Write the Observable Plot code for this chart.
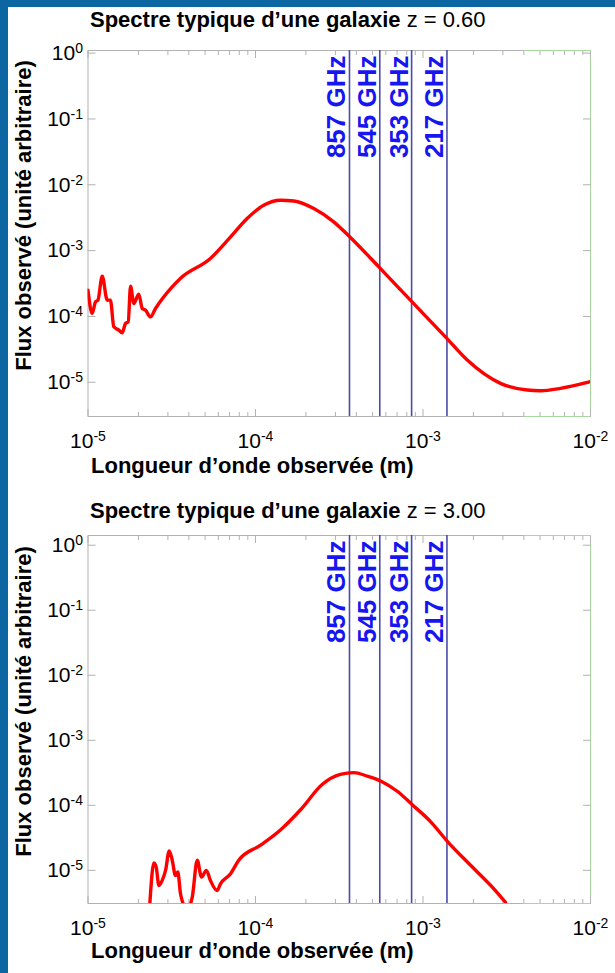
<!DOCTYPE html>
<html>
<head>
<meta charset="utf-8">
<script src="https://cdn.jsdelivr.net/npm/d3@7"></script>
<script src="https://cdn.jsdelivr.net/npm/@observablehq/plot@0.6"></script>
<style>
  html, body { margin: 0; padding: 0; background: #fff; }
  #page { position: relative; width: 615px; height: 973px; overflow: hidden; background: #fff;
          font-family: "Liberation Sans", Arial, sans-serif; color: #000; }
  .bar-left { position: absolute; left: 0; top: 0; width: 8px; height: 973px; background: #0b66a2; }
  .bar-top { position: absolute; left: 0; top: 0; width: 615px; height: 7px; background: #0b66a2; }
  .title { position: absolute; left: 90px; font-size: 22px; line-height: 22px; white-space: nowrap; }
  .title b { font-weight: bold; }
  .xlabel { position: absolute; left: 91px; font-size: 22px; line-height: 22px; font-weight: bold; white-space: nowrap; }
  svg { position: absolute; left: 0; }
</style>
</head>
<body>
<div id="page">
  <div class="bar-left"></div>
  <div class="bar-top"></div>
  <div class="title" style="top:9px"><b>Spectre typique d’une galaxie</b> z = 0.60</div>
  <div class="xlabel" style="top:455px">Longueur d’onde observée (m)</div>
  <div class="title" style="top:500px"><b>Spectre typique d’une galaxie</b> z = 3.00</div>
  <div class="xlabel" style="top:940px">Longueur d’onde observée (m)</div>
</div>
<script>
// ---- Data ----
// Planck frequency bands and their observed wavelengths (m)
const bandLabels = ["857 GHz", "545 GHz", "353 GHz", "217 GHz"];
const bandLambda = [3.64e-4, 5.52e-4, 8.55e-4, 1.39e-3];

// Axis ticks
const xTicks = [1e-5, 1e-4, 1e-3, 1e-2];
const yTicks = [1e0, 1e-1, 1e-2, 1e-3, 1e-4, 1e-5];

// Spectrum at z = 0.60 (wavelength in m, flux in arbitrary units)
const lambdaZ060 = [1.00e-5, 1.059e-5, 1.109e-5, 1.146e-5, 1.216e-5, 1.303e-5, 1.361e-5, 1.426e-5, 1.528e-5, 1.600e-5,
  1.675e-5, 1.738e-5, 1.795e-5, 1.875e-5, 2.009e-5, 2.109e-5, 2.203e-5, 2.36e-5, 2.53e-5, 3.18e-5,
  3.56e-5, 5.38e-5, 7.10e-5, 8.91e-5, 1.119e-4, 1.409e-4, 1.694e-4, 2.23e-4, 2.93e-4, 3.66e-4,
  5.45e-4, 8.41e-4, 1.361e-3, 1.837e-3, 2.90e-3, 4.19e-3, 5.02e-3, 6.62e-3, 1.00e-2];
const fluxZ060 = [2.51e-4, 1.112e-4, 1.667e-4, 1.766e-4, 4.09e-4, 1.766e-4, 1.77e-4, 6.95e-5, 6.19e-5, 5.64e-5,
  7.83e-5, 8.28e-5, 2.88e-4, 1.574e-4, 2.18e-4, 1.321e-4, 1.247e-4, 9.86e-5, 1.321e-4, 2.81e-4,
  3.78e-4, 7.59e-4, 1.614e-3, 3.07e-3, 4.89e-3, 5.82e-3, 5.68e-3, 4.36e-3, 2.73e-3, 1.614e-3,
  5.66e-4, 1.766e-4, 4.90e-5, 2.17e-5, 9.62e-6, 7.62e-6, 7.43e-6, 8.07e-6, 1.019e-5];

// Spectrum at z = 3.00
const lambdaZ300 = [2.265e-5, 2.339e-5, 2.472e-5, 2.553e-5, 2.649e-5, 2.773e-5, 2.904e-5, 3.055e-5, 3.184e-5, 3.327e-5,
  3.436e-5, 3.565e-5, 3.648e-5, 3.82e-5, 4.0e-5, 4.19e-5, 4.49e-5, 4.76e-5, 5.09e-5, 5.38e-5,
  5.90e-5, 6.18e-5, 7.10e-5, 7.94e-5, 1.072e-4, 1.409e-4, 1.858e-4, 2.50e-4, 3.21e-4, 3.86e-4,
  4.65e-4, 5.62e-4, 7.02e-4, 8.63e-4, 1.109e-3, 1.406e-3, 1.923e-3, 2.649e-3, 3.11e-3];
const fluxZ300 = [8.1e-7, 3.09e-6, 1.297e-5, 1.125e-5, 5.85e-6, 7.0e-6, 1.0e-5, 1.995e-5, 1.429e-5, 8.36e-6,
  9.42e-6, 4.40e-6, 3.42e-6, 2.75e-6, 2.75e-6, 3.85e-6, 1.429e-5, 7.87e-6, 1.0e-5, 7.0e-6,
  4.89e-6, 6.21e-6, 8.89e-6, 1.429e-5, 2.44e-5, 4.18e-5, 8.55e-5, 2.09e-4, 2.99e-4, 3.18e-4,
  2.81e-4, 2.35e-4, 1.644e-4, 1.021e-4, 5.62e-5, 2.75e-5, 1.197e-5, 5.2e-6, 3.22e-6];

const yLabel = "Flux observé (unité arbitraire)";

// ---- Drawing ----
const minorX = [];
for (let k = -5; k <= -3; k++) for (let m = 2; m <= 9; m++) minorX.push(m * Math.pow(10, k));

const gray = "#b2b2b2";
const green = "#a8d8a0";
const fmt = d => "10|" + Math.round(Math.log10(d));

function panel({lam, flux, yDomain, top, height, marginTop, marginBottom, yLabelDy}) {
  const rows = lam.map((l, i) => ({l, f: flux[i]}));
  const svg = Plot.plot({
    width: 615, height, marginLeft: 87.5, marginRight: 25, marginTop, marginBottom,
    x: {type: "log", domain: [1e-5, 1e-2]},
    y: {type: "log", domain: yDomain},
    style: {fontFamily: "'Liberation Sans', Arial, sans-serif", fontSize: "21px", color: "#000", background: "transparent", overflow: "visible"},
    marks: [
      Plot.frame({stroke: gray}),
      Plot.ruleY([yDomain[0], yDomain[1]], {x1: 4e-3, x2: 1e-2, stroke: green}),
      Plot.ruleX([1e-2], {stroke: green}),
      Plot.axisX({anchor: "bottom", ticks: minorX, tickSize: -4, fill: "none", label: null, stroke: gray}),
      Plot.axisX({anchor: "bottom", ticks: xTicks, tickSize: -7, fill: "none", label: null, stroke: gray}),
      Plot.axisX({anchor: "top", ticks: minorX, tickSize: -4, fill: "none", label: null, stroke: gray}),
      Plot.axisX({anchor: "top", ticks: xTicks, tickSize: -7, fill: "none", label: null, stroke: gray}),
      Plot.axisY({anchor: "left", ticks: yTicks, tickSize: -8, fill: "none", label: null, stroke: gray}),
      Plot.axisY({anchor: "right", ticks: yTicks, tickSize: -8, fill: "none", label: null, stroke: gray}),
      Plot.axisX({anchor: "bottom", ticks: xTicks, tickSize: 0, tickPadding: 17, tickFormat: fmt, label: null, fontSize: 21}),
      Plot.axisY({anchor: "left", ticks: yTicks, tickSize: 0, tickPadding: 5, tickFormat: fmt, label: null, fontSize: 21}),
      Plot.ruleX(bandLambda, {stroke: "#4b4bab", strokeWidth: 1.6}),
      Plot.text(bandLambda, {x: d => d, text: (d, i) => bandLabels[i], frameAnchor: "top", rotate: -90,
        textAnchor: "end", lineAnchor: "bottom", dx: -4, dy: 5, fill: "#1616f0", fontWeight: "bold", fontSize: 26}),
      Plot.line(rows, {x: "l", y: "f", stroke: "#ff0000", strokeWidth: 3.4, clip: true, curve: "monotone-x"}),
      Plot.text([yLabel], {frameAnchor: "left", textAnchor: "middle", lineAnchor: "middle", rotate: -90,
        dx: -64, dy: yLabelDy, fontWeight: "bold", fontSize: 22, fill: "#000"})
    ]
  });
  // superscript exponents on tick labels
  d3.select(svg).selectAll("text").each(function () {
    const t = this.textContent;
    if (t.startsWith("10|")) {
      const e = t.slice(3);
      this.textContent = "10";
      d3.select(this).append("tspan").attr("font-size", "14px").attr("dy", "-0.5em").text(e);
    }
  });
  svg.style.top = top + "px";
  document.getElementById("page").appendChild(svg);
}

panel({lam: lambdaZ060, flux: fluxZ060, yDomain: [3.02e-6, 1.096], top: 30, height: 420, marginTop: 20, marginBottom: 34, yLabelDy: -18});
panel({lam: lambdaZ300, flux: fluxZ300, yDomain: [3.09e-6, 1.41], top: 515, height: 420, marginTop: 20, marginBottom: 32, yLabelDy: -18});
</script>
</body>
</html>
